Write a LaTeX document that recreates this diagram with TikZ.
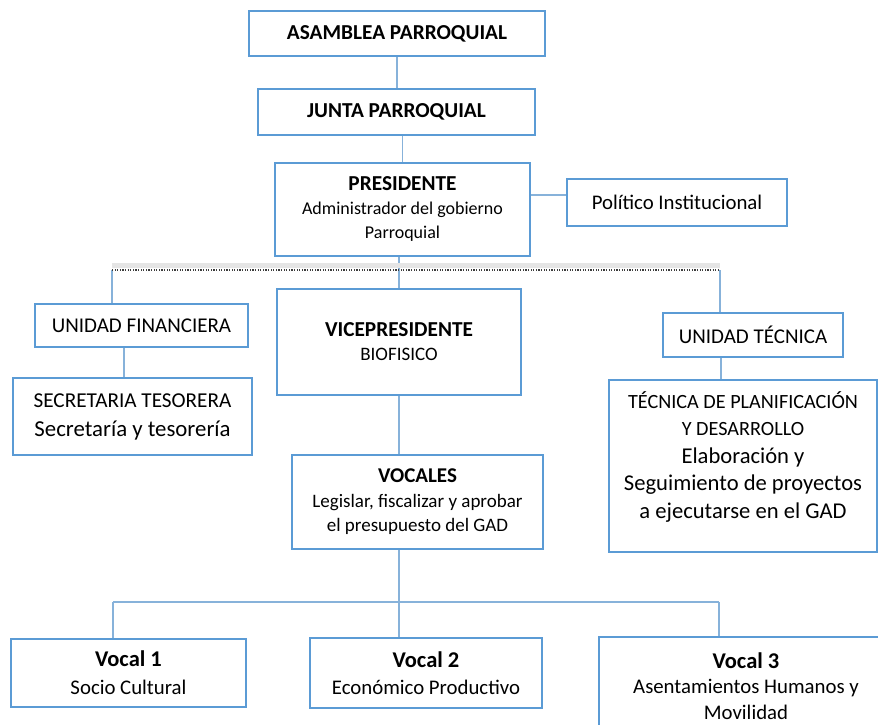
\documentclass[tikz,border=0pt]{standalone}
\usepackage{fontspec}
\setmainfont{Carlito}
\usetikzlibrary{positioning}
\definecolor{boxblue}{RGB}{91,155,213}
\definecolor{lineblue}{RGB}{135,178,218}
\definecolor{dotgray}{RGB}{60,60,60}
\newcommand{\fsz}[2]{\fontsize{#1}{#2}\selectfont}

\begin{document}
\begin{tikzpicture}[x=1pt, y=-1pt,
  orgbox/.style={draw=boxblue, line width=2.5pt, fill=white, align=center, inner sep=0pt},
  link/.style={draw=lineblue, line width=1.1pt},
  sepline/.style={draw=dotgray, line width=1.6pt, dash pattern=on 1.2pt off 1.4pt}]

  \useasboundingbox (0,0) rectangle (878,725);

  % top of the chart
  \node[orgbox, minimum width=296pt, minimum height=45pt, font=\fsz{21.3}{24}\bfseries] (asam) at (397,33.5)
    {ASAMBLEA PARROQUIAL};
  \node[orgbox, minimum width=277pt, minimum height=46pt, font=\fsz{21.3}{24}\bfseries] (junta) at (396.5,112)
    {JUNTA PARROQUIAL};
  \node[orgbox, minimum width=255pt, minimum height=93pt, font=\fsz{18}{24}] (pres) at (402.5,209.5)
    {\raisebox{-7pt}{\begin{tabular}{@{}c@{}}{\fsz{21.3}{24}\bfseries PRESIDENTE}\\
     Administrador del gobierno\\ Parroquial\end{tabular}}};
  \node[orgbox, line width=2pt, minimum width=220pt, minimum height=47pt, font=\fsz{20.8}{24}] (pol) at (677,202.5)
    {Político Institucional};

  % second level
  \node[orgbox, line width=2pt, minimum width=213pt, minimum height=43pt, font=\fsz{21}{24}] (fin) at (141.5,325.5)
    {UNIDAD FINANCIERA};
  \node[orgbox, minimum width=239pt, minimum height=77pt, font=\fsz{22.8}{29}] (sec) at (132.5,416.5)
    {{\fsz{21.2}{29}SECRETARIA TESORERA}\\ Secretaría y tesorería};
  \node[orgbox, minimum width=244pt, minimum height=106pt, font=\fsz{19}{24}] (vice) at (399,342)
    {{\fsz{21.3}{24}\bfseries VICEPRESIDENTE}\\ BIOFISICO};
  \node[orgbox, line width=2pt, minimum width=180pt, minimum height=44pt, font=\fsz{21}{24}] (tec) at (753,335)
    {UNIDAD TÉCNICA};
  \node[orgbox, minimum width=268pt, minimum height=172pt, font=\fsz{22.6}{27.5}] (tecp) at (743,466)
    {{\fsz{20.2}{27.5}TÉCNICA DE PLANIFICACIÓN}\\ {\fsz{20.2}{27.5}Y DESARROLLO}\\ Elaboración y\\
     Seguimiento de proyectos\\ a ejecutarse en el GAD\\[-5pt]\mbox{}};
  \node[orgbox, minimum width=251pt, minimum height=94pt, font=\fsz{19}{24.5}] (voc) at (417.5,502)
    {{\fsz{21}{24.5}\bfseries VOCALES}\\ Legislar, fiscalizar y aprobar\\ el presupuesto del GAD};

  % vocales
  \node[orgbox, minimum width=235pt, minimum height=68pt, font=\fsz{20.8}{28}] (v1) at (128.5,673)
    {{\fsz{22.5}{28}\bfseries Vocal 1}\\ Socio Cultural};
  \node[orgbox, minimum width=232pt, minimum height=70pt, font=\fsz{20.8}{27}] (v2) at (426,673)
    {{\fsz{22.5}{27}\bfseries Vocal 2}\\ Económico Productivo};
  \node[orgbox, minimum width=294pt, minimum height=98pt, font=\fsz{20.8}{25.5}] (v3) at (746,686)
    {{\fsz{22.5}{25.5}\bfseries Vocal 3}\\ Asentamientos Humanos y\\ Movilidad};

  % separator and branch points
  \coordinate (dl) at (112,270);
  \coordinate (dr) at (720,270);
  \coordinate (bl) at (113,602);
  \coordinate (br) at (719,602);
  \coordinate (pc) at (0,195);
  \coordinate (fc) at (124,0);
  \coordinate (tc) at (721,0);

  \draw[link] (asam.south) -- (asam.south |- junta.north);
  \draw[link] (junta.south -| pres.north) -- (pres.north);
  \draw[link] (pc -| pres.east) -- (pc -| pol.west);
  \draw[link] (pres.south -| vice.north) -- (vice.north);
  \draw[link] (dl) -- (dl |- fin.north);
  \draw[link] (dr) -- (dr |- tec.north);
  \draw[link] (fc |- fin.south) -- (fc |- sec.north);
  \draw[link] (tc |- tec.south) -- (tc |- tecp.north);
  \draw[link] (vice.south) -- (vice.south |- voc.north);
  \draw[link] (vice.south |- voc.south) -- (vice.south |- bl);
  \draw[link] (bl) -- (br);
  \draw[link] (bl) -- (bl |- v1.north);
  \draw[link] (vice.south |- bl) -- (vice.south |- v2.north);
  \draw[link] (br) -- (br |- v3.north);

  % dotted separator with its soft shadow
  \draw[gray!20, line width=5pt] ([yshift=5pt]dl) -- ([yshift=5pt]dr);
  \draw[sepline] (dl) -- (dr);
\end{tikzpicture}
\end{document}
